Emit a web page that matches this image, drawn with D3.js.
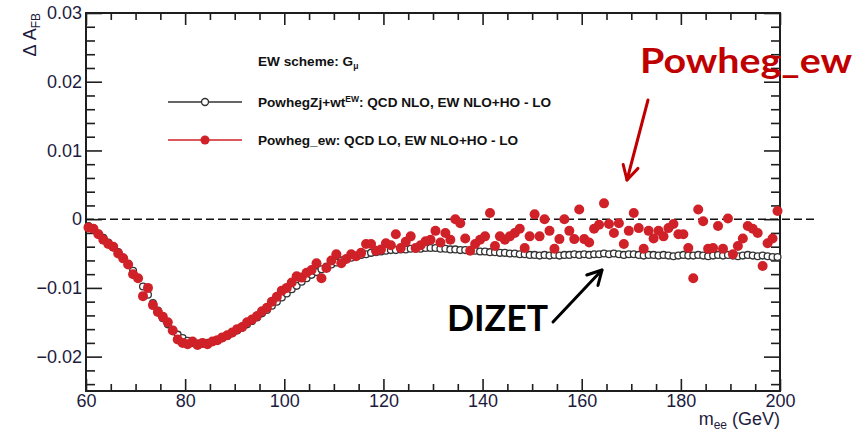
<!DOCTYPE html>
<html>
<head>
<meta charset="utf-8">
<script src="https://cdn.jsdelivr.net/npm/d3@7"></script>
<style>
  html, body { margin: 0; padding: 0; background: #fff; }
  svg { display: block; }
</style>
</head>
<body>
<svg id="chart" width="857" height="433"></svg>
<script>
// ---------------- DATA ----------------
// bin centres (1 GeV bins from 60 to 200 GeV)
const massBins = d3.range(60.5, 200, 1);

// PowhegZj+wt^EW (DIZET-like) : QCD NLO, EW NLO+HO - LO
const dizetValues = [
  -0.0010,-0.0015,-0.0021,-0.0027,-0.0034,-0.0041,-0.0048,-0.0056,-0.0065,-0.0075,
  -0.0086,-0.0098,-0.0110,-0.0122,-0.0133,-0.0144,-0.0153,-0.0161,-0.0168,-0.0173,
  -0.0177,-0.0180,-0.0181,-0.0181,-0.0180,-0.0178,-0.0176,-0.0173,-0.0170,-0.0166,
  -0.0162,-0.0158,-0.0153,-0.0148,-0.0143,-0.0137,-0.0132,-0.0126,-0.0120,-0.0114,
  -0.0108,-0.0102,-0.0097,-0.0091,-0.0086,-0.0081,-0.0077,-0.0073,-0.0069,-0.0066,
  -0.0063,-0.0060,-0.0058,-0.0056,-0.0054,-0.0052,-0.0051,-0.0049,-0.0048,-0.0047,
  -0.0046,-0.0045,-0.0045,-0.0044,-0.0044,-0.0043,-0.0043,-0.0043,-0.0042,-0.0042,
  -0.0042,-0.0043,-0.0043,-0.0044,-0.0044,-0.0045,-0.0045,-0.0046,-0.0046,-0.0047,
  -0.0047,-0.0048,-0.0048,-0.0049,-0.0049,-0.0050,-0.0050,-0.0051,-0.0051,-0.0052,
  -0.0052,-0.0053,-0.0052,-0.0053,-0.0052,-0.0053,-0.0052,-0.0052,-0.0051,-0.0052,
  -0.0051,-0.0052,-0.0051,-0.0051,-0.0050,-0.0051,-0.0050,-0.0051,-0.0052,-0.0051,
  -0.0051,-0.0052,-0.0053,-0.0052,-0.0052,-0.0053,-0.0052,-0.0053,-0.0054,-0.0053,
  -0.0052,-0.0053,-0.0053,-0.0052,-0.0053,-0.0054,-0.0053,-0.0052,-0.0053,-0.0052,
  -0.0053,-0.0054,-0.0053,-0.0052,-0.0053,-0.0054,-0.0053,-0.0054,-0.0055,-0.0055
];

// Powheg_ew : QCD LO, EW NLO+HO - LO
const powhegEwValues = [
  -0.0012,-0.0014,-0.0022,-0.0030,-0.0036,-0.0040,-0.0050,-0.0057,-0.0066,-0.0080,
  -0.0086,-0.0112,-0.0100,-0.0125,-0.0135,-0.0142,-0.0150,-0.0162,-0.0175,-0.0180,
  -0.0182,-0.0178,-0.0183,-0.0180,-0.0182,-0.0178,-0.0176,-0.0172,-0.0169,-0.0165,
  -0.0160,-0.0157,-0.0150,-0.0146,-0.0141,-0.0134,-0.0129,-0.0120,-0.0113,-0.0104,
  -0.0100,-0.0092,-0.0083,-0.0085,-0.0078,-0.0074,-0.0064,-0.0086,-0.0071,-0.0060,
  -0.0051,-0.0064,-0.0058,-0.0051,-0.0054,-0.0049,-0.0036,-0.0036,-0.0046,-0.0044,
  -0.0035,-0.0038,-0.0022,-0.0042,-0.0033,-0.0025,-0.0042,-0.0038,-0.0032,-0.0030,
  -0.0017,-0.0034,-0.0020,-0.0030, 0.0000,-0.0006,-0.0028,-0.0046,-0.0036,-0.0030,
  -0.0025, 0.0009,-0.0039,-0.0025,-0.0030,-0.0025,-0.0020,-0.0014,-0.0042,-0.0025,
   0.0007,-0.0025, 0.0000,-0.0017,-0.0043,-0.0029, 0.0000,-0.0017,-0.0029, 0.0014,
  -0.0029,-0.0034,-0.0014,-0.0008, 0.0023,-0.0007,-0.0020,-0.0006,-0.0036,-0.0017,
   0.0009,-0.0013,-0.0043,-0.0017,-0.0028,-0.0017,-0.0025,-0.0013,-0.0007,-0.0022,
  -0.0022,-0.0042,-0.0086, 0.0014,-0.0003,-0.0043,-0.0042,-0.0010,-0.0043, 0.0001,
  -0.0051,-0.0039,-0.0028,-0.0010,-0.0014,-0.0020,-0.0068,-0.0035,-0.0028, 0.0012
];

const xMajorTicks = [60, 80, 100, 120, 140, 160, 180, 200];
const xTickLabels = ["60", "80", "100", "120", "140", "160", "180", "200"];
const yMajorTicks = [-0.02, -0.01, 0, 0.01, 0.02, 0.03];
const yTickLabels = ["\u22120.02", "\u22120.01", "0", "0.01", "0.02", "0.03"];

// ---------------- LAYOUT ----------------
const svg = d3.select("#chart");
const X0 = 86, X1 = 780, Y0 = 391, Y1 = 13;
const x = d3.scaleLinear().domain([60, 200]).range([X0, X1]);
const y = d3.scaleLinear().domain([-0.025, 0.03]).range([Y0, Y1]);

const axisColor = "#1e1e1e";
const labelColor = "#1d1b3e";
const red = "#cf2127";
const font = "'Liberation Sans', Arial, Helvetica, sans-serif";

const xMinor = d3.range(60, 200.1, 5).filter(v => v % 20 !== 0);
const yMinor = d3.range(-24, 30.1, 2).map(v => v / 1000).filter(v => Math.abs(Math.round(v * 1000) % 10) !== 0);

function styleAxis(g) {
  g.select(".domain").remove();
  g.selectAll("line").attr("stroke", axisColor).attr("stroke-width", 1.6);
  g.selectAll("text").attr("fill", labelColor).attr("font-family", font).attr("font-size", 18);
}

// Left axis (labels + ticks inward)
svg.append("g").attr("transform", `translate(${X0},0)`)
  .call(d3.axisLeft(y).tickValues(yMajorTicks).tickSizeInner(-16).tickSizeOuter(0).tickPadding(4)
    .tickFormat((d, i) => yTickLabels[i]))
  .call(styleAxis);
svg.append("g").attr("transform", `translate(${X0},0)`)
  .call(d3.axisLeft(y).tickValues(yMinor).tickSizeInner(-9).tickSizeOuter(0).tickFormat(""))
  .call(styleAxis);
// Right axis (ticks inward)
svg.append("g").attr("transform", `translate(${X1},0)`)
  .call(d3.axisRight(y).tickValues(yMajorTicks).tickSizeInner(-16).tickSizeOuter(0).tickFormat(""))
  .call(styleAxis);
svg.append("g").attr("transform", `translate(${X1},0)`)
  .call(d3.axisRight(y).tickValues(yMinor).tickSizeInner(-9).tickSizeOuter(0).tickFormat(""))
  .call(styleAxis);
// Bottom axis
svg.append("g").attr("transform", `translate(0,${Y0})`)
  .call(d3.axisBottom(x).tickValues(xMajorTicks).tickSizeInner(-12).tickSizeOuter(0).tickPadding(3)
    .tickFormat((d, i) => xTickLabels[i]))
  .call(styleAxis);
svg.append("g").attr("transform", `translate(0,${Y0})`)
  .call(d3.axisBottom(x).tickValues(xMinor).tickSizeInner(-7).tickSizeOuter(0).tickFormat(""))
  .call(styleAxis);
// Top axis
svg.append("g").attr("transform", `translate(0,${Y1})`)
  .call(d3.axisTop(x).tickValues(xMajorTicks).tickSizeInner(-12).tickSizeOuter(0).tickFormat(""))
  .call(styleAxis);
svg.append("g").attr("transform", `translate(0,${Y1})`)
  .call(d3.axisTop(x).tickValues(xMinor).tickSizeInner(-7).tickSizeOuter(0).tickFormat(""))
  .call(styleAxis);

// Frame
svg.append("rect").attr("x", X0).attr("y", Y1).attr("width", X1 - X0).attr("height", Y0 - Y1)
  .attr("fill", "none").attr("stroke", axisColor).attr("stroke-width", 2);

// Zero dashed line (extends past right frame)
svg.append("line").attr("x1", X0).attr("x2", 816).attr("y1", y(0)).attr("y2", y(0))
  .attr("stroke", "#111").attr("stroke-width", 1.5).attr("stroke-dasharray", "8,4");

// Data: DIZET-like open circles
svg.append("g").selectAll("circle").data(massBins)
  .join("circle")
  .attr("cx", d => x(d)).attr("cy", (d, i) => y(dizetValues[i])).attr("r", 3.4)
  .attr("fill", "#fff").attr("stroke", "#333").attr("stroke-width", 1.3);

// Data: Powheg_ew filled red dots
svg.append("g").selectAll("circle").data(massBins)
  .join("circle")
  .attr("cx", d => x(d)).attr("cy", (d, i) => y(powhegEwValues[i])).attr("r", 5)
  .attr("fill", red);

// Legend
const legFont = 13.6;
const leg = svg.append("g").attr("font-family", font).attr("fill", "#111").attr("font-weight", "bold");
leg.append("text").attr("x", 258).attr("y", 66).attr("font-size", legFont)
  .call(t => {
    t.append("tspan").text("EW scheme: G");
    t.append("tspan").attr("font-size", 8.5).attr("dy", 3).text("\u03bc");
  });
leg.append("line").attr("x1", 168).attr("x2", 242).attr("y1", 102).attr("y2", 102)
  .attr("stroke", "#333").attr("stroke-width", 1.6);
leg.append("circle").attr("cx", 205).attr("cy", 102).attr("r", 3.5)
  .attr("fill", "#fff").attr("stroke", "#333").attr("stroke-width", 1.4);
leg.append("text").attr("x", 258).attr("y", 107).attr("font-size", legFont)
  .call(t => {
    t.append("tspan").text("PowhegZj+wt");
    t.append("tspan").attr("font-size", 8.5).attr("dy", -5).text("EW");
    t.append("tspan").attr("dy", 5).text(": QCD NLO, EW NLO+HO - LO");
  });
leg.append("line").attr("x1", 168).attr("x2", 242).attr("y1", 140).attr("y2", 140)
  .attr("stroke", red).attr("stroke-width", 1.6);
leg.append("circle").attr("cx", 205).attr("cy", 140).attr("r", 4.5).attr("fill", red);
leg.append("text").attr("x", 258).attr("y", 145).attr("font-size", legFont)
  .text("Powheg_ew: QCD LO, EW NLO+HO - LO");

// Axis titles
svg.append("text").attr("x", X1).attr("y", 425).attr("text-anchor", "end")
  .attr("font-family", font).attr("font-size", 18).attr("fill", labelColor)
  .call(t => {
    t.append("tspan").text("m");
    t.append("tspan").attr("font-size", 12).attr("dy", 4).text("ee");
    t.append("tspan").attr("dy", -4).text(" (GeV)");
  });
svg.append("text").attr("transform", "translate(36,13) rotate(-90)").attr("text-anchor", "end")
  .attr("font-family", font).attr("font-size", 18).attr("fill", labelColor)
  .call(t => {
    t.append("tspan").text("\u0394 A");
    t.append("tspan").attr("font-size", 12).attr("dy", 4).text("FB");
  });

// Annotations
svg.append("text").attr("x", 640).attr("y", 73).attr("font-family", "Lato, 'Open Sans', sans-serif")
  .attr("font-weight", "bold").attr("font-size", 35).attr("fill", "#c00000")
  .attr("textLength", 212).attr("lengthAdjust", "spacingAndGlyphs").text("Powheg_ew");
svg.append("text").attr("x", 447).attr("y", 331).attr("font-family", "Lato, 'Open Sans', sans-serif")
  .attr("font-weight", "bold").attr("font-size", 37).attr("fill", "#000")
  .attr("textLength", 101).attr("lengthAdjust", "spacingAndGlyphs").text("DIZET");

function arrow(x1, y1, x2, y2, color, w) {
  const g = svg.append("g").attr("stroke", color).attr("stroke-width", w).attr("fill", "none")
    .attr("stroke-linecap", "round").attr("stroke-linejoin", "round");
  g.append("line").attr("x1", x1).attr("y1", y1).attr("x2", x2).attr("y2", y2);
  const a = Math.atan2(y2 - y1, x2 - x1), L = 16, s = 0.5;
  g.append("path").attr("d",
    `M${x2 - L * Math.cos(a - s)},${y2 - L * Math.sin(a - s)} L${x2},${y2} L${x2 - L * Math.cos(a + s)},${y2 - L * Math.sin(a + s)}`);
}
arrow(648, 100, 627, 180, "#c00000", 3);
arrow(553, 322, 602, 270, "#000", 3);
</script>
</body>
</html>
